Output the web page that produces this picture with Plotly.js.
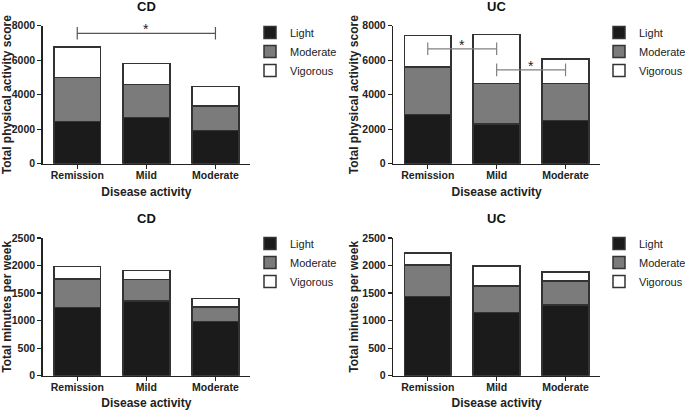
<!DOCTYPE html>
<html>
<head>
<meta charset="utf-8">
<script src="https://cdn.plot.ly/plotly-3.0.1.min.js"></script>
<style>html,body{margin:0;padding:0;background:#fff;overflow:hidden;}#chart{width:700px;height:410px;}</style>
</head>
<body>
<div id="chart"></div>
<script>
// ---- data ----
const categories = ["Remission", "Mild", "Moderate"];
const seriesNames = ["Light", "Moderate", "Vigorous"];

const cdScoreLight    = [2440, 2670, 1930];
const cdScoreModerate = [2550, 1930, 1410];
const cdScoreVigorous = [1780, 1200, 1140];

const ucScoreLight    = [2860, 2300, 2510];
const ucScoreModerate = [2760, 2340, 2150];
const ucScoreVigorous = [1800, 2840, 1410];

const cdMinLight    = [1240, 1360, 980];
const cdMinModerate = [520, 390, 270];
const cdMinVigorous = [220, 160, 150];

const ucMinLight    = [1440, 1150, 1280];
const ucMinModerate = [570, 480, 440];
const ucMinVigorous = [220, 360, 160];

// significance brackets: [from category, to category, y level]
const cdScoreSig = [["Remission", "Moderate", 7560]];
const ucScoreSig = [["Remission", "Mild", 6660], ["Mild", "Moderate", 5440]];

const panelTitles = ["CD", "UC", "CD", "UC"];
const yTitles = ["Total physical activity score", "Total physical activity score",
                 "Total minutes per week", "Total minutes per week"];
const xTitle = "Disease activity";

// ---- styles ----
const W = 700, H = 410;   // drawing is slightly wider than the 685px window so the right legends are not pushed left
const FONT = "Liberation Sans, Arial, sans-serif";
const colors = ["#1b1b1b", "#7b7b7b", "#ffffff"];
const outline = "#333333";

const panels = [
  {data: [cdScoreLight, cdScoreModerate, cdScoreVigorous], xa: "x",  ya: "y",  leg: "legend",  sig: cdScoreSig, sigColor: "#555"},
  {data: [ucScoreLight, ucScoreModerate, ucScoreVigorous], xa: "x2", ya: "y2", leg: "legend2", sig: ucScoreSig, sigColor: "#808080"},
  {data: [cdMinLight, cdMinModerate, cdMinVigorous],       xa: "x3", ya: "y3", leg: "legend3", sig: [], sigColor: "#555"},
  {data: [ucMinLight, ucMinModerate, ucMinVigorous],       xa: "x4", ya: "y4", leg: "legend4", sig: [], sigColor: "#808080"}
];

const traces = [];
const annotations = [];
panels.forEach((p, pi) => {
  p.data.forEach((vals, si) => {
    traces.push({
      type: "bar", x: categories, y: vals, name: seriesNames[si],
      xaxis: p.xa, yaxis: p.ya, legend: p.leg,
      marker: {color: colors[si], line: {color: outline, width: 1.5}},
      hoverinfo: "skip"
    });
  });
  p.sig.forEach(s => {
    traces.push({
      type: "scatter", mode: "lines+markers", x: [s[0], s[1]], y: [s[2], s[2]],
      xaxis: p.xa, yaxis: p.ya, showlegend: false, hoverinfo: "skip",
      line: {color: p.sigColor, width: 1.2},
      marker: {symbol: "line-ns-open", size: 9, line: {color: p.sigColor, width: 1.2}}
    });
    const mid = (categories.indexOf(s[0]) + categories.indexOf(s[1])) / 2;
    annotations.push({
      xref: p.xa, yref: p.ya, x: mid, y: s[2], text: "*", showarrow: false,
      yanchor: "bottom", yshift: -6, font: {family: FONT, size: 14, color: "#222"}
    });
  });
});

const px = v => v / W, py = v => 1 - v / H;
const xDomL = [px(42.7), px(250)];
const xDomR = [px(393.3), px(600)];
const yDomT = [py(163.7), py(25.7)];
const yDomB = [py(375.7), py(238)];

function xax(dom, anchor) {
  return {
    domain: dom, anchor: anchor, type: "category", range: [-0.5, 2.5],
    showline: true, linecolor: "#222", linewidth: 1.5,
    ticks: "outside", ticklen: 4, tickwidth: 1.3, tickcolor: "#222",
    ticklabelstandoff: -3,
    showgrid: false, zeroline: false, fixedrange: true,
    tickfont: {family: FONT, size: 10.5, color: "#222", weight: "bold"},
    title: {text: xTitle, standoff: 8, font: {family: FONT, size: 12, color: "#222", weight: "bold"}}
  };
}
function yax(dom, anchor, range, dtick, title) {
  return {
    domain: dom, anchor: anchor, range: range, dtick: dtick,
    showline: true, linecolor: "#222", linewidth: 1.5,
    ticks: "outside", ticklen: 4, tickwidth: 1.3, tickcolor: "#222",
    showgrid: false, zeroline: false, fixedrange: true,
    tickfont: {family: FONT, size: 10.5, color: "#222", weight: "bold"},
    title: {text: title, standoff: 1, font: {family: FONT, size: 12, color: "#222", weight: "bold"}}
  };
}
function leg(x, y) {
  return {x: x, y: y, xanchor: "left", yanchor: "top", traceorder: "normal",
          bgcolor: "rgba(0,0,0,0)", font: {family: FONT, size: 11, color: "#222"},
          itemclick: false, itemdoubleclick: false};
}

// panel titles
const titleX = [(xDomL[0]+xDomL[1])/2, (xDomR[0]+xDomR[1])/2, (xDomL[0]+xDomL[1])/2, (xDomR[0]+xDomR[1])/2];
const titleY = [py(6), py(6), py(218), py(218)];
panelTitles.forEach((t, i) => {
  annotations.push({xref: "paper", yref: "paper", x: titleX[i], y: titleY[i], text: t,
    showarrow: false, xanchor: "center", yanchor: "middle",
    font: {family: FONT, size: 13, color: "#111", weight: "bold"}});
});

const layout = {
  width: W, height: H, margin: {l: 0, r: 0, t: 0, b: 0},
  paper_bgcolor: "#fff", plot_bgcolor: "#fff",
  barmode: "stack", bargap: 0.32,
  showlegend: true,
  xaxis:  xax(xDomL, "y"),
  xaxis2: xax(xDomR, "y2"),
  xaxis3: xax(xDomL, "y3"),
  xaxis4: xax(xDomR, "y4"),
  yaxis:  yax(yDomT, "x",  [0, 8000], 2000, yTitles[0]),
  yaxis2: yax(yDomT, "x2", [0, 8000], 2000, yTitles[1]),
  yaxis3: yax(yDomB, "x3", [0, 2500], 500,  yTitles[2]),
  yaxis4: yax(yDomB, "x4", [0, 2500], 500,  yTitles[3]),
  legend:  leg(px(250), py(18)),
  legend2: leg(px(599), py(18)),
  legend3: leg(px(250), py(229)),
  legend4: leg(px(599), py(229)),
  annotations: annotations
};

Plotly.newPlot("chart", traces, layout, {displayModeBar: false, staticPlot: true});
</script>
</body>
</html>
